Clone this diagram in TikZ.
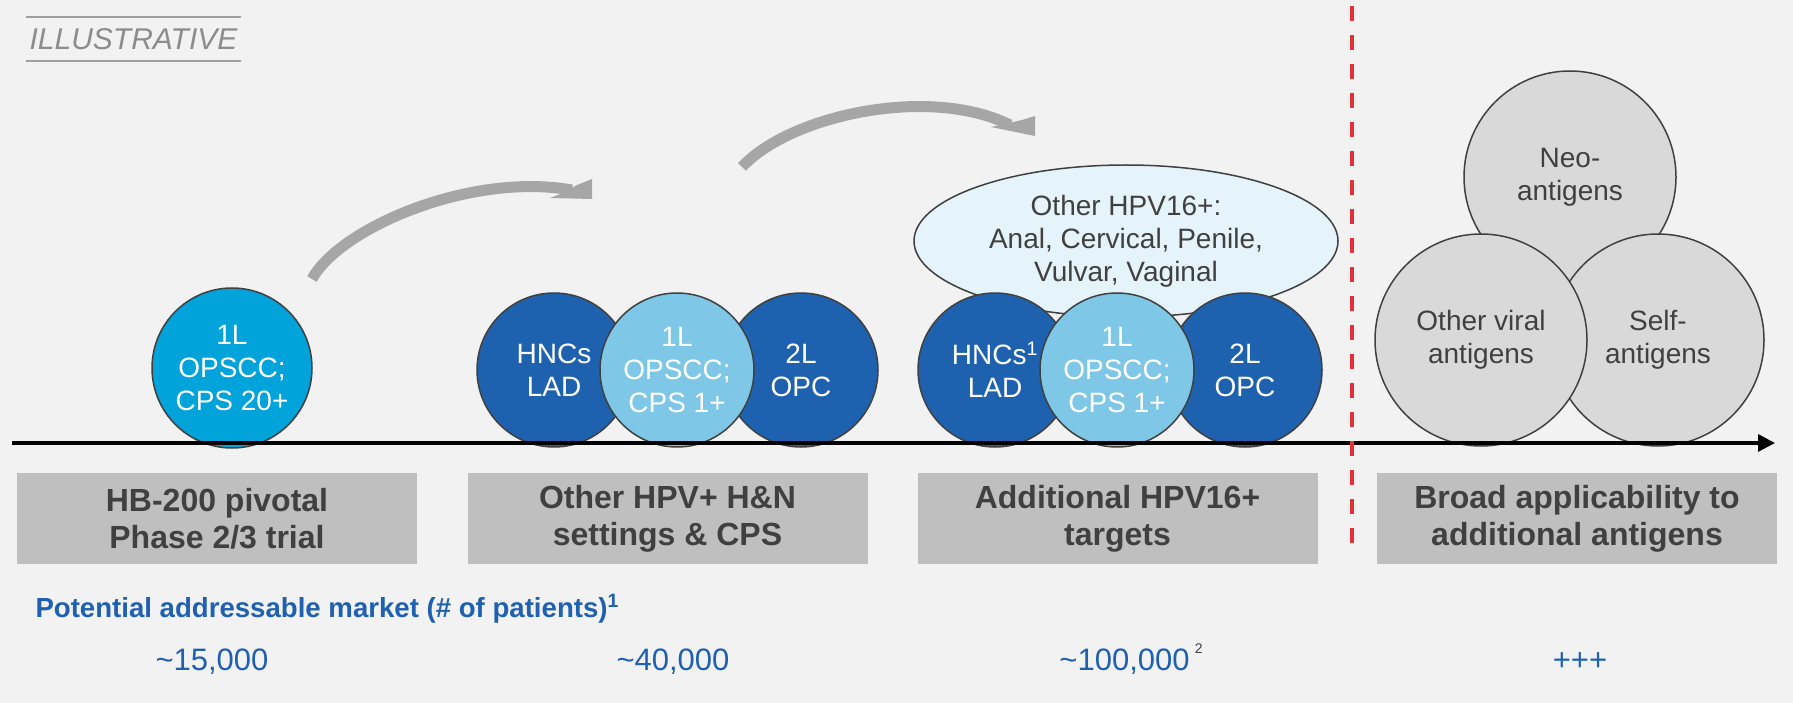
\documentclass[tikz,border=0pt]{standalone}
\usepackage{fontspec}
\setmainfont{Liberation Sans}
\usetikzlibrary{shapes.geometric,arrows.meta}

\definecolor{bgGray}{RGB}{242,242,242}
\definecolor{leadBlue}{RGB}{0,163,218}
\definecolor{deepBlue}{RGB}{30,98,175}
\definecolor{paleBlue}{RGB}{127,199,230}
\definecolor{mistBlue}{RGB}{229,243,251}
\definecolor{antigenGray}{RGB}{217,217,217}
\definecolor{boxGray}{RGB}{191,191,191}
\definecolor{inkGray}{RGB}{64,64,64}
\definecolor{arcGray}{RGB}{166,166,166}
\definecolor{labelGray}{RGB}{140,140,140}
\definecolor{ruleGray}{RGB}{160,160,160}
\definecolor{marketBlue}{RGB}{31,96,176}
\definecolor{cutRed}{RGB}{232,48,58}

\tikzset{
  disc/.style={circle, draw=inkGray, line width=1.5pt, minimum size=154pt, inner sep=0pt,
    align=center, text=white, font=\fontsize{28}{33}\selectfont},
  bigdisc/.style={disc, minimum size=212pt, fill=antigenGray, text=inkGray},
  stagebox/.style={fill=boxGray, minimum width=400pt, minimum height=91pt, inner sep=0pt,
    align=center, text=inkGray, font=\fontsize{32}{37}\selectfont\bfseries},
  count/.style={anchor=base, text=marketBlue, font=\fontsize{31}{36}\selectfont},
  hop/.style={arcGray, line width=11pt},
}

\begin{document}
\begin{tikzpicture}[x=1pt, y=-1pt]
    \useasboundingbox (0,0) rectangle (1793,703);
    \fill[bgGray] (0,0) rectangle (1793,703);

    \node[font=\fontsize{30}{36}\selectfont\itshape, text=labelGray, minimum width=215pt,
          minimum height=44pt, inner sep=0pt] (illus) at (133.5,39) {ILLUSTRATIVE};
    \draw[ruleGray, line width=1.5pt] (illus.north west) -- (illus.north east)
                                      (illus.south west) -- (illus.south east);

    % curved hops between the stages
    \coordinate (hopA-from) at (312,279);
    \coordinate (hopA-to) at (572,190);
    \draw[hop] (hopA-from) .. controls (340,228) and (470,172) .. (hopA-to);
    \fill[arcGray, shift={(hopA-to)}] (5,-5) -- (20,-11) -- (20,9) -- (-22,8) -- (-9,3) -- cycle;

    \coordinate (hopB-from) at (742,167);
    \coordinate (hopB-to) at (1010,125);
    \draw[hop] (hopB-from) .. controls (790,115) and (930,85) .. (hopB-to);
    \fill[arcGray, shift={(hopB-to)}] (12,-5) -- (25,-9) -- (25,11) -- (-19,2) -- (-5,-1) -- cycle;

    % stage 1
    \node[disc, fill=leadBlue, minimum size=160pt] (leadDisc) at (232,368) {1L\\OPSCC;\\CPS 20+};

    % stage 2
    \node[disc, fill=deepBlue] (hncDisc) at (554,370) {HNCs\\LAD};
    \node[disc, fill=deepBlue] (opcDisc) at (801,370) {2L\\OPC};
    \node[disc, fill=paleBlue] (cpsDisc) at (677,370) {1L\\OPSCC;\\CPS 1+};

    % stage 3
    \node[ellipse, draw=inkGray, line width=1.5pt, fill=mistBlue, minimum width=424pt,
          minimum height=152pt, inner sep=0pt, align=center, text=inkGray,
          font=\fontsize{28}{33}\selectfont] (hpvOval) at (1126,241)
          {Other HPV16+:\\Anal, Cervical, Penile,\\Vulvar, Vaginal};
    \node[disc, fill=deepBlue] (hncDiscB) at (995,370) {HNCs\textsuperscript{1}\\LAD};
    \node[disc, fill=deepBlue] (opcDiscB) at (1245,370) {2L\\OPC};
    \node[disc, fill=paleBlue] (cpsDiscB) at (1117,370) {1L\\OPSCC;\\CPS 1+};

    % stage 4
    \node[bigdisc] (neoDisc) at (1570,177) {Neo-\\antigens};
    \node[bigdisc] (selfDisc) at (1658,340) {Self-\\antigens};
    \node[bigdisc] (viralDisc) at (1481,340) {Other viral\\antigens};

    % timeline
    \coordinate (axisFrom) at (12,443);
    \coordinate (axisTo) at (1775,443);
    \draw[line width=3.3pt, -{Triangle[length=17pt, width=17pt]}] (axisFrom) -- (axisTo);

    \coordinate (cutTop) at (1352,6);
    \coordinate (cutBottom) at (1352,553);
    \draw[cutRed, line width=4pt, dash pattern=on 15pt off 14pt] (cutTop) -- (cutBottom);

    \node[stagebox] (stageA) at (217,518.5) {HB-200 pivotal\\Phase 2/3 trial};
    \node[stagebox] (stageB) at (667.5,518.5) {Other HPV+ H\&N\\settings \& CPS};
    \node[stagebox] (stageC) at (1117.5,518.5) {Additional HPV16+\\targets};
    \node[stagebox] (stageD) at (1577,518.5) {Broad applicability to\\additional antigens};

    \node[anchor=base west, text=marketBlue, font=\fontsize{27.6}{32}\selectfont\bfseries]
          (marketTitle) at (32,617) {Potential addressable market (\# of patients)\textsuperscript{1}};

    \node[count] (countA) at (212,670) {\textasciitilde15,000};
    \node[count] (countB) at (673,670) {\textasciitilde40,000};
    \node[count] (countC) at (1131,670) {\textasciitilde100,000\,\raisebox{17pt}{\fontsize{14}{16}\selectfont\color{inkGray}2}};
    \node[count] (countD) at (1580,670) {+++};
\end{tikzpicture}
\end{document}
